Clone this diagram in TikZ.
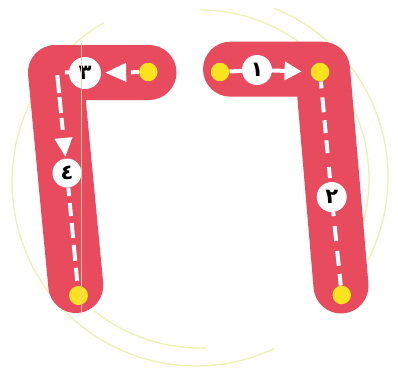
\documentclass[tikz,border=0pt]{standalone}
\usepackage{fontspec}
\newfontfamily\arabicfont[Script=Arabic]{DejaVu Sans}
\usetikzlibrary{arrows.meta}
\pgfdeclarelayer{bg}
\pgfdeclarelayer{lines}
\pgfsetlayers{bg,lines,main}
\definecolor{bandred}{RGB}{232,74,94}
\definecolor{dotyellow}{RGB}{249,226,30}
\definecolor{arcpale}{RGB}{237,241,178}
\definecolor{foldline}{RGB}{246,202,165}
\tikzset{
  band/.style={line width=55pt, line cap=round, line join=round, draw=bandred},
  dotnode/.style={circle, fill=dotyellow, inner sep=0pt, minimum size=18.5pt},
  numnode/.style={circle, fill=white, inner sep=0pt, minimum size=30pt,
    font=\arabicfont\bfseries\fontsize{21}{21}\selectfont, text=black},
  wline/.style={draw=white, line width=4pt},
  palearc/.style={draw=arcpale, line width=1.3pt},
}
\begin{document}
\begin{tikzpicture}[x=1pt, y=-1pt]
\useasboundingbox (0,0) rectangle (398,373);
\begin{pgfonlayer}{bg}
  \fill[white] (0,0) rectangle (398,373);
  % faint decorative arcs
  \draw[palearc] plot[smooth, samples=60, domain=65:240] ({196+184*cos(\x)}, {182+184*sin(\x)});
  \draw[palearc] plot[smooth, samples=40, domain=-68:27] ({206+182*cos(\x)}, {177+182*sin(\x)});
  \draw[palearc] plot[smooth, samples=40, domain=-90:17] ({200+169*cos(\x)}, {179+169*sin(\x)});
  \draw[palearc] plot[smooth, samples=20, domain=88:129] ({200+169*cos(\x)}, {179+169*sin(\x)});
  % red bands
  \draw[band] (149,72.5) -- (55.5,72.5) -- (75.8,285.5);
  \draw[band] (230.5,69.2) -- (322.5,69.2) -- (341,286);
\end{pgfonlayer}

% right group
\node[dotnode] (a1) at (220,72) {};
\node[numnode] (n1) at (257,70) {١};
\node[dotnode] (a2) at (320,72) {};
\node[numnode] (n2) at (331.7,197) {٢};
\node[dotnode] (a3) at (341.7,295) {};
% left group
\node[dotnode] (b1) at (148.3,72) {};
\node[numnode, minimum size=32pt] (n3) at (85,73) {٣};
\coordinate (bk) at (57,72);
\node[numnode, minimum size=29pt] (n4) at (67,173) {٤};
\node[dotnode, minimum size=19pt] (b2) at (78.5,295.5) {};

\begin{pgfonlayer}{lines}
  \draw[wline] (a1) -- (n1);
  \draw[wline, -{Triangle[length=17pt,width=18pt]}, shorten >=9pt] (n1) -- (a2);
  \draw[wline, dash pattern=on 7pt off 9pt on 15pt off 8pt on 13pt off 7pt on 13pt off 14pt on 11pt off 20pt] (a2) -- (n2);
  \draw[wline, dash pattern=on 4pt off 10pt on 15pt off 10pt on 15pt off 8pt on 14pt off 20pt] (n2) -- (a3);
  \draw[wline, dash pattern=on 8pt off 40pt, -{Triangle[length=21pt,width=18pt]}, shorten >=4pt] (b1) -- (n3);
  \draw[wline, dash pattern=on 4pt off 11pt on 18pt off 4pt on 16pt off 5pt on 12pt off 40pt, -{Triangle[length=19pt,width=17pt]}, shorten >=1.5pt] (n3) -- (bk) -- (n4);
  \draw[wline, dash pattern=on 8.5pt off 7pt on 13pt off 7pt on 15pt off 7pt on 16pt off 7pt on 13pt off 20pt] (n4) -- (b2);
\end{pgfonlayer}

% thin fold line across the left band
\draw[draw=foldline, line width=0.9pt] (81,43) -- (81,313.5);
\end{tikzpicture}
\end{document}
